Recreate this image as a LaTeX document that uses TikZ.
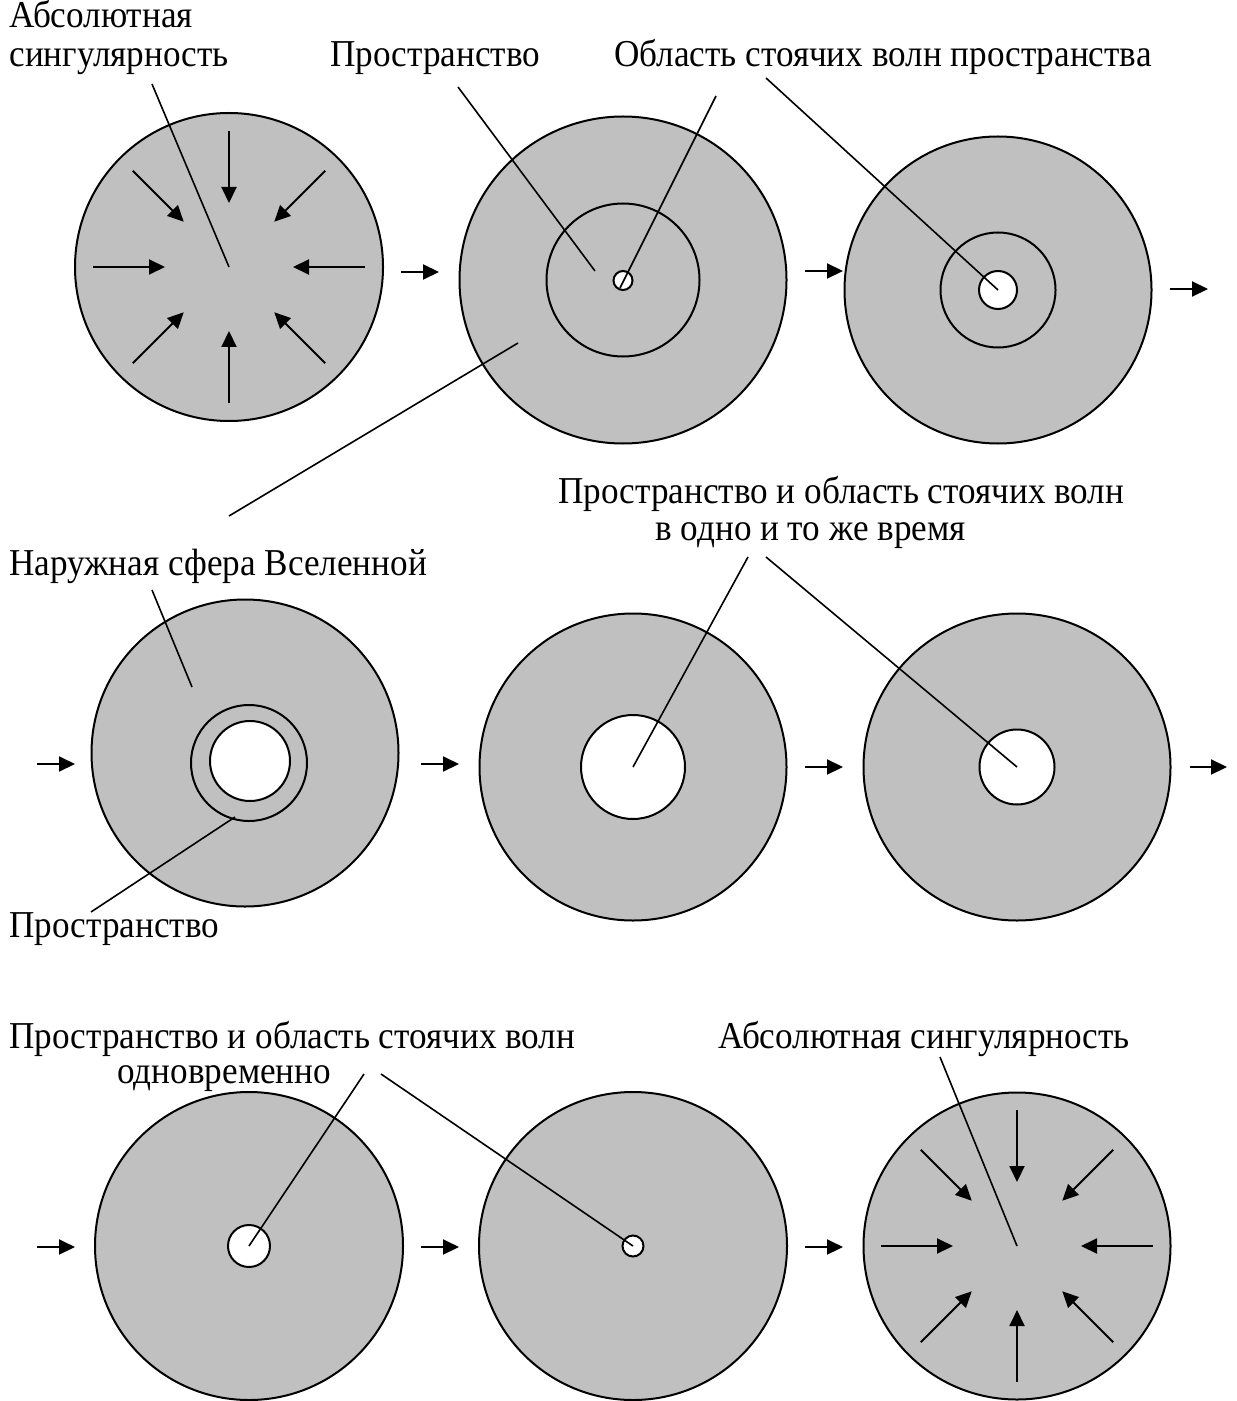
\documentclass[tikz,border=0pt]{standalone}
\usepackage{fontspec}
\setmainfont[FakeStretch=0.925]{Liberation Serif}
\usetikzlibrary{arrows.meta}
\definecolor{diskgray}{RGB}{192,192,192}
\begin{document}
\begin{tikzpicture}[x=0.5pt,y=-0.5pt,
  disk/.style={circle,draw,line width=1pt,fill=diskgray,inner sep=0pt,outer sep=0pt,minimum size=#1},
  ringc/.style={circle,draw,line width=1pt,inner sep=0pt,outer sep=0pt,minimum size=#1},
  hole/.style={circle,draw,line width=1pt,fill=white,inner sep=0pt,outer sep=0pt,minimum size=#1},
  lbl/.style={anchor=base west,inner sep=0pt,font=\fontsize{19}{22}\selectfont},
  ptr/.style={line width=0.8pt},
  flow/.style={line width=1pt,-{Triangle[length=8pt,width=7.5pt]}}]
\path[fill=white] (0,0) rectangle (1236,1401);
\useasboundingbox (0,0) rectangle (1236,1401);

% ---- row 1 ----
\node[disk=154pt] (c1) at (229,267) {};
\node[disk=163.5pt] (c2) at (623,280) {};
\node[ringc=76.5pt] (r2) at (623,280) {};
\node[hole=9.5pt] (h2) at (623,280.5) {};
\node[disk=153.5pt] (c3) at (998,290) {};
\node[ringc=57.5pt] (r3) at (998,290) {};
\node[hole=19pt] (h3) at (998,290) {};

% ---- row 2 ----
\node[disk=153.5pt] (c4) at (245,753) {};
\node[ringc=58pt] (r4) at (249,763) {};
\node[hole=40pt] (h4) at (250,761) {};
\node[disk=153.5pt] (c5) at (633,767) {};
\node[hole=52pt] (h5) at (633,767) {};
\node[disk=153.5pt] (c6) at (1017,767) {};
\node[hole=37.5pt] (h6) at (1017,767) {};

% ---- row 3 ----
\node[disk=154pt] (c7) at (249,1246) {};
\node[hole=21pt] (h7) at (249,1246) {};
\node[disk=154pt] (c8) at (633,1246) {};
\node[hole=10.5pt] (h8) at (633,1246) {};
\node[disk=153.5pt] (c9) at (1017,1246) {};

% inward arrows
\foreach \a in {0,45,...,315}{
  \draw[flow,shift={(c1.center)}] (\a:136) -- (\a:64);
  \draw[flow,shift={(c9.center)}] (\a:136) -- (\a:64);
}

% labels
\node[lbl] (t1a) at (9,28) {Абсолютная};
\node[lbl] (t1b) at (9,67) {сингулярность};
\node[lbl] (t2) at (330,67) {Пространство};
\node[lbl] (t3) at (614,67) {Область стоячих волн пространства};
\node[lbl] (t4a) at (558,503) {Пространство и область стоячих волн};
\node[lbl] (t4b) at (655,540) {в одно и то же время};
\node[lbl] (t5) at (9,575) {Наружная сфера Вселенной};
\node[lbl] (t6) at (9,937) {Пространство};
\node[lbl] (t7a) at (9,1048) {Пространство и область стоячих волн};
\node[lbl] (t7b) at (117,1083) {одновременно};
\node[lbl] (t8) at (718,1048) {Абсолютная сингулярность};

% pointer coordinates
\coordinate (p1s) at (152,84);
\coordinate (p2s) at (458,87);  \coordinate (p2e) at (595,271);
\coordinate (p3s) at (716,96);  \coordinate (p3e) at (620,288);
\coordinate (p4s) at (766,78);
\coordinate (p5s) at (518,343); \coordinate (p5e) at (229,516);
\coordinate (p6s) at (152,590); \coordinate (p6e) at (192,687);
\coordinate (p7s) at (235,817); \coordinate (p7e) at (91,912);
\coordinate (p8s) at (748,557);
\coordinate (p9s) at (766,557);
\coordinate (p10s) at (364,1074);
\coordinate (p11s) at (381,1074);
\coordinate (p12s) at (940,1057);

\draw[ptr] (p1s) -- (c1.center);
\draw[ptr] (p2s) -- (p2e);
\draw[ptr] (p3s) -- (p3e);
\draw[ptr] (p4s) -- (h3.center);
\draw[ptr] (p5s) -- (p5e);
\draw[ptr] (p6s) -- (p6e);
\draw[ptr] (p7s) -- (p7e);
\draw[ptr] (p8s) -- (h5.center);
\draw[ptr] (p9s) -- (h6.center);
\draw[ptr] (p10s) -- (h7.center);
\draw[ptr] (p11s) -- (h8.center);
\draw[ptr] (p12s) -- (c9.center);

% flow arrows between stages
\coordinate (f1s) at (401,272);  \coordinate (f1e) at (439,272);
\coordinate (f2s) at (805,271);  \coordinate (f2e) at (843,271);
\coordinate (f3s) at (1170,289); \coordinate (f3e) at (1208,289);
\coordinate (f4s) at (37,764);   \coordinate (f4e) at (75,764);
\coordinate (f5s) at (421,764);  \coordinate (f5e) at (459,764);
\coordinate (f6s) at (805,767);  \coordinate (f6e) at (843,767);
\coordinate (f7s) at (1190,767); \coordinate (f7e) at (1227,767);
\coordinate (f8s) at (37,1247);  \coordinate (f8e) at (75,1247);
\coordinate (f9s) at (421,1247); \coordinate (f9e) at (459,1247);
\coordinate (f10s) at (805,1247); \coordinate (f10e) at (843,1247);
\foreach \i in {1,...,10}{\draw[flow] (f\i s) -- (f\i e);}
\end{tikzpicture}
\end{document}
